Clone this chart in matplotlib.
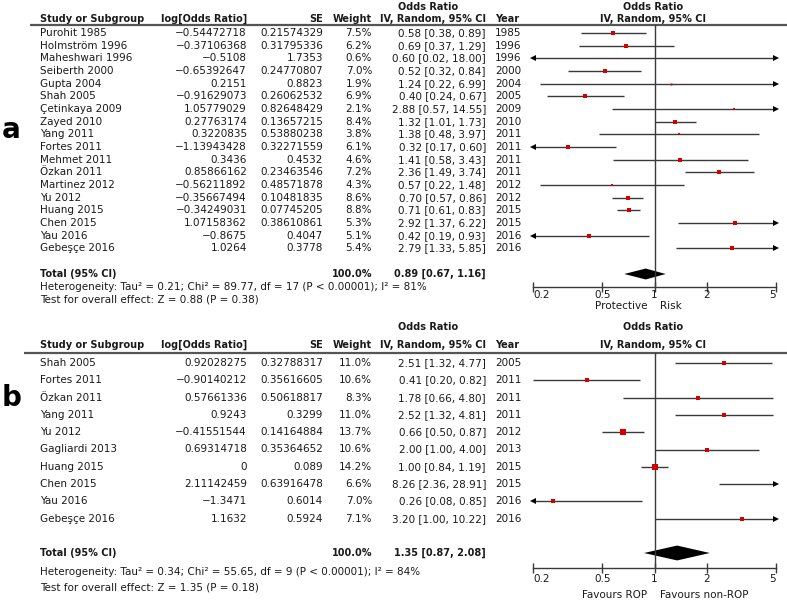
import matplotlib.pyplot as plt
import numpy as np

plt.rcParams['font.family'] = ['DejaVu Sans']

# ---- panel a data ----
a_study = ["Purohit 1985", "Holmström 1996", "Maheshwari 1996", "Seiberth 2000", "Gupta 2004",
           "Shah 2005", "Çetinkaya 2009", "Zayed 2010", "Yang 2011", "Fortes 2011", "Mehmet 2011",
           "Özkan 2011", "Martinez 2012", "Yu 2012", "Huang 2015", "Chen 2015", "Yau 2016",
           "Gebeşçe 2016"]
a_logor = ["-0.54472718", "-0.37106368", "-0.5108", "-0.65392647", "0.2151", "-0.91629073",
           "1.05779029", "0.27763174", "0.3220835", "-1.13943428", "0.3436", "0.85866162",
           "-0.56211892", "-0.35667494", "-0.34249031", "1.07158362", "-0.8675", "1.0264"]
a_se = ["0.21574329", "0.31795336", "1.7353", "0.24770807", "0.8823", "0.26062532", "0.82648429",
        "0.13657215", "0.53880238", "0.32271559", "0.4532", "0.23463546", "0.48571878",
        "0.10481835", "0.07745205", "0.38610861", "0.4047", "0.3778"]
a_weight = [7.5, 6.2, 0.6, 7.0, 1.9, 6.9, 2.1, 8.4, 3.8, 6.1, 4.6, 7.2, 4.3, 8.6, 8.8, 5.3, 5.1, 5.4]
a_or = [0.58, 0.69, 0.60, 0.52, 1.24, 0.40, 2.88, 1.32, 1.38, 0.32, 1.41, 2.36, 0.57, 0.70, 0.71,
        2.92, 0.42, 2.79]
a_lo = [0.38, 0.37, 0.02, 0.32, 0.22, 0.24, 0.57, 1.01, 0.48, 0.17, 0.58, 1.49, 0.22, 0.57, 0.61,
        1.37, 0.19, 1.33]
a_hi = [0.89, 1.29, 18.00, 0.84, 6.99, 0.67, 14.55, 1.73, 3.97, 0.60, 3.43, 3.74, 1.48, 0.86, 0.83,
        6.22, 0.93, 5.85]
a_year = [1985, 1996, 1996, 2000, 2004, 2005, 2009, 2010, 2011, 2011, 2011, 2011, 2012, 2012, 2015,
          2015, 2016, 2016]
a_total = (0.89, 0.67, 1.16)
a_het = "Heterogeneity: Tau² = 0.21; Chi² = 89.77, df = 17 (P < 0.00001); I² = 81%"
a_test = "Test for overall effect: Z = 0.88 (P = 0.38)"
a_favours = ("Protective", "Risk")

# ---- panel b data ----
b_study = ["Shah 2005", "Fortes 2011", "Özkan 2011", "Yang 2011", "Yu 2012", "Gagliardi 2013",
           "Huang 2015", "Chen 2015", "Yau 2016", "Gebeşçe 2016"]
b_logor = ["0.92028275", "-0.90140212", "0.57661336", "0.9243", "-0.41551544", "0.69314718", "0",
           "2.11142459", "-1.3471", "1.1632"]
b_se = ["0.32788317", "0.35616605", "0.50618817", "0.3299", "0.14164884", "0.35364652", "0.089",
        "0.63916478", "0.6014", "0.5924"]
b_weight = [11.0, 10.6, 8.3, 11.0, 13.7, 10.6, 14.2, 6.6, 7.0, 7.1]
b_or = [2.51, 0.41, 1.78, 2.52, 0.66, 2.00, 1.00, 8.26, 0.26, 3.20]
b_lo = [1.32, 0.20, 0.66, 1.32, 0.50, 1.00, 0.84, 2.36, 0.08, 1.00]
b_hi = [4.77, 0.82, 4.80, 4.81, 0.87, 4.00, 1.19, 28.91, 0.85, 10.22]
b_year = [2005, 2011, 2011, 2011, 2012, 2013, 2015, 2015, 2016, 2016]
b_total = (1.35, 0.87, 2.08)
b_het = "Heterogeneity: Tau² = 0.34; Chi² = 55.65, df = 9 (P < 0.00001); I² = 84%"
b_test = "Test for overall effect: Z = 1.35 (P = 0.18)"
b_favours = ("Favours ROP", "Favours non-ROP")

ticks = [0.2, 0.5, 1, 2, 5]
tick_labels = ["0.2", "0.5", "1", "2", "5"]

W, H = 787, 603
FS = 7.5
FSB = 7.0
TXT = "#1a1a1a"
LINE = "#3a3a3a"

fig = plt.figure(figsize=(W / 100, H / 100), dpi=100)
bg = fig.add_axes([0, 0, 1, 1])
bg.set_xlim(0, W)
bg.set_ylim(H, 0)
bg.axis("off")


def fmt(s):
    return s.replace("-", "\u2212")


def ci_text(o, l, h):
    return f"{o:.2f} [{l:.2f}, {h:.2f}]"


def panel(label, label_y, study, logor, se, weight, orv, lo, hi, year, total, het, test, favours,
          y_or, y_head, y_line, line_x0, row0, step, y_total, y_het, y_test, y_axis, dia_h,
          tick_dy, fav_dy):
    n = len(study)
    bold = dict(fontsize=FSB, fontweight="bold", color=TXT, va="center")
    norm = dict(fontsize=FS, color=TXT, va="center")

    bg.text(2, label_y, label, fontsize=20, fontweight="bold", va="center", color="black")

    # headers
    bg.text(428, y_or, "Odds Ratio", ha="center", **bold)
    bg.text(653, y_or, "Odds Ratio", ha="center", **bold)
    bg.text(40, y_head, "Study or Subgroup", ha="left", **bold)
    bg.text(247, y_head, "log[Odds Ratio]", ha="right", **bold)
    bg.text(323, y_head, "SE", ha="right", **bold)
    bg.text(372, y_head, "Weight", ha="right", **bold)
    bg.text(486, y_head, "IV, Random, 95% CI", ha="right", **bold)
    bg.text(495, y_head, "Year", ha="left", **bold)
    bg.text(653, y_head, "IV, Random, 95% CI", ha="center", **bold)
    bg.plot([line_x0, W], [y_line, y_line], color="#555555", lw=1.6, solid_capstyle="butt")

    for i in range(n):
        y = row0 + i * step
        bg.text(40, y, study[i], ha="left", **norm)
        bg.text(247, y, fmt(logor[i]), ha="right", **norm)
        bg.text(323, y, se[i], ha="right", **norm)
        bg.text(372, y, f"{weight[i]:.1f}%", ha="right", **norm)
        bg.text(486, y, ci_text(orv[i], lo[i], hi[i]), ha="right", **norm)
        bg.text(495, y, str(year[i]), ha="left", **norm)

    bg.text(40, y_total, "Total (95% CI)", ha="left", **bold)
    bg.text(372, y_total, "100.0%", ha="right", **bold)
    bg.text(486, y_total, ci_text(*total), ha="right", **bold)
    bg.text(40, y_het, het, ha="left", **norm)
    bg.text(40, y_test, test, ha="left", **norm)

    # forest plot axes
    x0, x1 = 533, 776
    ax = fig.add_axes([x0 / W, 1 - y_axis / H, (x1 - x0) / W, (y_axis - y_line) / H])
    ax.set_xscale("log")
    ax.set_xlim(0.2, 5)
    ax.set_ylim((y_axis - row0) / step, (y_line - row0) / step)
    ax.patch.set_alpha(0)
    for s in ["top", "left", "right"]:
        ax.spines[s].set_visible(False)
    ax.spines["bottom"].set_color(LINE)
    ax.spines["bottom"].set_linewidth(1.0)
    ax.set_yticks([])
    ax.set_xticks(ticks)
    ax.set_xticks([], minor=True)
    ax.tick_params(axis="x", direction="inout", length=6.5, width=1.0, color=LINE,
                   labelbottom=False)
    for k, (t, lab) in enumerate(zip(ticks, tick_labels)):
        ha = "left" if k == 0 else ("right" if k == len(ticks) - 1 else "center")
        ax.annotate(lab, xy=(t, 0), xycoords=ax.get_xaxis_transform(), xytext=(0, -tick_dy),
                    textcoords="offset pixels", ha=ha, va="center", fontsize=FS, color=TXT,
                    annotation_clip=False)

    ax.axvline(1, color=LINE, lw=1.0)

    for i in range(n):
        l = max(lo[i], 0.2)
        h = min(hi[i], 5)
        ax.plot([l, h], [i, i], color=LINE, lw=1.0, solid_capstyle="butt")
        if lo[i] < 0.2:
            ax.plot(0.2, i, marker="<", color="black", ms=4, mew=0, clip_on=False)
        if hi[i] > 5:
            ax.plot(5, i, marker=">", color="black", ms=4, mew=0, clip_on=False)
        if 0.2 <= orv[i] <= 5:
            ms = 1.4 * np.sqrt(weight[i]) * 0.72
            ax.plot(orv[i], i, marker="s", color="#d40000", ms=ms, mew=0)

    t_est, t_lo, t_hi = total
    rt = (y_total - row0) / step
    ax.fill([t_lo, t_est, t_hi, t_est], [rt, rt - dia_h, rt, rt + dia_h], color="black", lw=0)

    bg.text(647, y_axis + fav_dy, favours[0], ha="right", **norm)
    bg.text(660, y_axis + fav_dy, favours[1], ha="left", **norm)


panel("a", 130, a_study, a_logor, a_se, a_weight, a_or, a_lo, a_hi, a_year, a_total, a_het, a_test,
      a_favours, y_or=7, y_head=19, y_line=25, line_x0=30, row0=33, step=12.67, y_total=274,
      y_het=287, y_test=299, y_axis=287, dia_h=0.43, tick_dy=8, fav_dy=19)

panel("b", 398, b_study, b_logor, b_se, b_weight, b_or, b_lo, b_hi, b_year, b_total, b_het, b_test,
      b_favours, y_or=327, y_head=345, y_line=353, line_x0=24, row0=363, step=17.3, y_total=553,
      y_het=572, y_test=588, y_axis=568, dia_h=0.43, tick_dy=11, fav_dy=27)

fig.savefig("out.png", dpi=100)
